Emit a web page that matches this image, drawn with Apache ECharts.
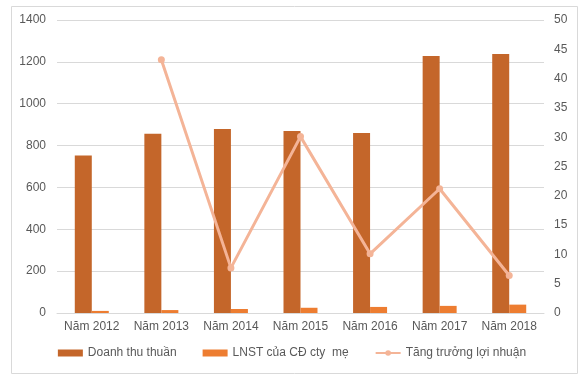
<!DOCTYPE html>
<html><head><meta charset="utf-8">
<script src="https://cdn.jsdelivr.net/npm/echarts@6/dist/echarts.min.js"></script>
<style>html,body{margin:0;padding:0;background:#fff}#c{width:584px;height:383px}</style>
</head><body><div id="c"></div>
<script>
const categories = ['Năm 2012','Năm 2013','Năm 2014','Năm 2015','Năm 2016','Năm 2017','Năm 2018'];
const revenue = [753, 856, 879, 870, 860, 1228, 1238];
const profit = [10, 14, 19, 25, 29, 34, 40];
const growth = [null, 43.2, 7.7, 30.1, 10.1, 21.2, 6.4];
const leftTicks = [0, 200, 400, 600, 800, 1000, 1200, 1400];
const rightTicks = [0, 5, 10, 15, 20, 25, 30, 35, 40, 45, 50];

const chart = echarts.init(document.getElementById('c'));
const txt = '#595959';
chart.setOption({
  animation: false,
  textStyle: {fontFamily: 'Liberation Sans, Arial, sans-serif'},
  graphic: [{type: 'rect', shape: {x: 11.5, y: 6.5, width: 566, height: 367}, style: {fill: 'none', stroke: '#D9D9D9', lineWidth: 1}}],
  grid: {left: 57, right: 40, top: 20, bottom: 70},
  legend: {
    bottom: 19, left: 'center', itemGap: 26, itemWidth: 25, itemHeight: 7,
    textStyle: {color: txt, fontSize: 12},
    data: [
      {name: 'Doanh thu thuần', icon: 'rect'},
      {name: 'LNST của CĐ cty  mẹ', icon: 'rect'},
      {name: 'Tăng trưởng lợi nhuận'}
    ]
  },
  xAxis: {
    type: 'category', data: categories,
    axisLine: {lineStyle: {color: '#D9D9D9'}}, axisTick: {show: false},
    axisLabel: {color: txt, fontSize: 12, margin: 8, interval: 0}
  },
  yAxis: [{
    type: 'value', min: leftTicks[0], max: leftTicks[leftTicks.length-1], interval: 200,
    axisLine: {show: false}, axisTick: {show: false},
    axisLabel: {color: txt, fontSize: 12, margin: 11, formatter: v => String(v)},
    splitLine: {lineStyle: {color: '#D9D9D9'}}
  }, {
    type: 'value', min: rightTicks[0], max: rightTicks[rightTicks.length-1], interval: 5,
    axisLine: {show: false}, axisTick: {show: false},
    axisLabel: {color: txt, fontSize: 12, margin: 10, formatter: v => String(v)},
    splitLine: {show: false}
  }],
  series: [{
    name: 'Doanh thu thuần', type: 'bar', data: revenue, barWidth: 17, barGap: '0%',
    itemStyle: {color: '#C4662A'}
  }, {
    name: 'LNST của CĐ cty  mẹ', type: 'bar', data: profit, barWidth: 17,
    itemStyle: {color: '#ED7D31'}
  }, {
    name: 'Tăng trưởng lợi nhuận', type: 'line', yAxisIndex: 1, data: growth,
    symbol: 'circle', symbolSize: 7, connectNulls: false,
    lineStyle: {color: '#F4B497', width: 3}, itemStyle: {color: '#F4B497'}
  }]
});
</script></body></html>
